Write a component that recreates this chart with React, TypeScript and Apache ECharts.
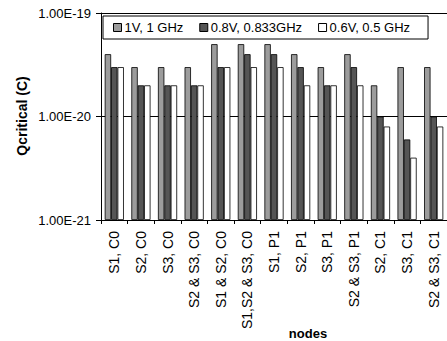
import React, { useEffect, useRef } from "react";
import * as echarts from "echarts";

const categories = [
  "S1, C0",
  "S2, C0",
  "S3, C0",
  "S2 & S3, C0",
  "S1 & S2, C0",
  "S1,S2 & S3, C0",
  "S1, P1",
  "S2, P1",
  "S3, P1",
  "S2 & S3, P1",
  "S2, C1",
  "S3, C1",
  "S2 & S3, C1",
];

const seriesNames = ["1V, 1 GHz", "0.8V, 0.833GHz", "0.6V, 0.5 GHz"];

const v1V = [4e-20, 3e-20, 3e-20, 3e-20, 5e-20, 5e-20, 5e-20, 4e-20, 3e-20, 4e-20, 2e-20, 3e-20, 3e-20];
const v08V = [3e-20, 2e-20, 2e-20, 2e-20, 3e-20, 4e-20, 4e-20, 3e-20, 2e-20, 3e-20, 1e-20, 6e-21, 1e-20];
const v06V = [3e-20, 2e-20, 2e-20, 2e-20, 3e-20, 3e-20, 3e-20, 2e-20, 2e-20, 2e-20, 8e-21, 4e-21, 8e-21];

const yMin = 1e-21;
const yMax = 1e-19;

const colors = ["#9c9c9c", "#555555", "#ffffff"];

const FONT = "'Liberation Sans', Arial, sans-serif";

// values are plotted in units of 1e-21 C so the log scale works with moderate numbers
const UNIT = 1e-21;
const UNIT_EXP = -21;

export default function App() {
  const ref = useRef<HTMLDivElement>(null);
  useEffect(() => {
    if (!ref.current) return;
    const chart = echarts.init(ref.current, undefined, { renderer: "svg" });
    const data = [v1V, v08V, v06V].map((arr) => arr.map((v) => v / UNIT));
    chart.setOption({
      animation: false,
      backgroundColor: "#ffffff",
      textStyle: { fontFamily: FONT },
      grid: { left: 101, top: 13, width: 354, height: 207, containLabel: false },
      legend: {
        left: 103,
        top: 16,
        orient: "horizontal",
        itemWidth: 8,
        itemHeight: 8,
        itemGap: 16,
        icon: "rect",
        padding: [5, 18, 5, 10],
        backgroundColor: "#ffffff",
        borderColor: "#000000",
        borderWidth: 1,
        borderRadius: 0,
        itemStyle: { borderColor: "#000000", borderWidth: 1 },
        textStyle: { fontFamily: FONT, fontSize: 13, color: "#000000", padding: [0, 0, 0, -2] },
        data: seriesNames,
      },
      xAxis: {
        type: "category",
        data: categories,
        boundaryGap: true,
        axisLine: { lineStyle: { color: "#000000", width: 1 } },
        axisTick: { show: true, length: 4, lineStyle: { color: "#000000" } },
        axisLabel: {
          rotate: 90,
          interval: 0,
          margin: 11,
          fontFamily: FONT,
          fontSize: 14,
          color: "#000000",
        },
        splitLine: { show: false },
      },
      yAxis: {
        type: "log",
        logBase: 10,
        min: yMin / UNIT,
        max: yMax / UNIT,
        axisLine: { show: true, lineStyle: { color: "#000000", width: 1 } },
        axisTick: { show: true, length: 5, lineStyle: { color: "#000000" } },
        minorTick: { show: false },
        axisLabel: {
          fontFamily: FONT,
          fontSize: 13,
          color: "#000000",
          margin: 10,
          formatter: (v: number) => {
            const e = Math.round(Math.log10(v)) + UNIT_EXP;
            return "1.00E" + e;
          },
        },
        splitLine: { show: true, lineStyle: { color: "#000000", width: 1 } },
      },
      graphic: [
        {
          type: "text",
          x: 22,
          y: 116,
          rotation: Math.PI / 2,
          style: {
            text: "Qcritical (C)",
            font: "bold 14px " + FONT,
            fill: "#000000",
            align: "center",
            verticalAlign: "middle",
          },
        },
        {
          type: "text",
          x: 308,
          y: 333,
          style: {
            text: "nodes",
            font: "bold 13px " + FONT,
            fill: "#000000",
            align: "center",
            verticalAlign: "middle",
          },
        },
      ],
      series: seriesNames.map((name, i) => ({
        name,
        type: "bar",
        data: data[i],
        barGap: "0%",
        barCategoryGap: "28%",
        itemStyle: { color: colors[i], borderColor: "#000000", borderWidth: 0.8 },
      })),
    });
    return () => chart.dispose();
  }, []);
  return (
    <div
      ref={ref}
      style={{ position: "fixed", left: 0, top: 0, width: 447, height: 341, background: "#fff" }}
    />
  );
}
